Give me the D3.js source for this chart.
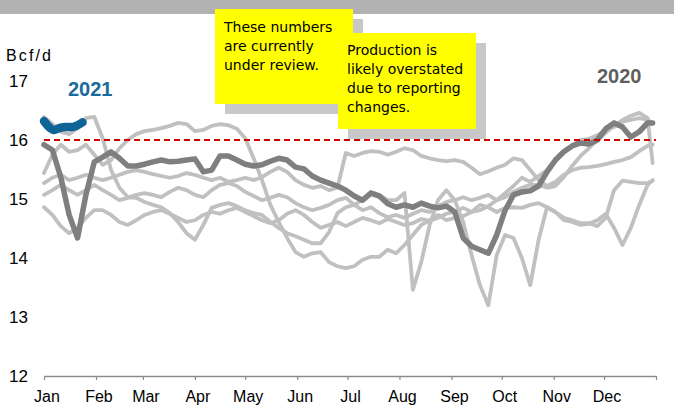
<!DOCTYPE html>
<html>
<head>
<meta charset="utf-8">
<script src="https://cdn.jsdelivr.net/npm/d3@7"></script>
<style>
  body { margin: 0; background: #fff; }
  svg { display: block; }
</style>
</head>
<body>
<svg id="chart" width="674" height="407"></svg>
<script>
// Daily production, Bcf/d, sampled every five days (day of year)
const days = d3.range(0, 361, 5).concat([363]);
const months = ["Jan", "Feb", "Mar", "Apr", "May", "Jun", "Jul", "Aug", "Sep", "Oct", "Nov", "Dec"];
const monthStarts = [0, 31, 59, 90, 120, 151, 181, 212, 243, 273, 304, 334, 365];
const yTicks = [12, 13, 14, 15, 16, 17];
const referenceLevel = 16;

// Prior years (grey)
const y2015 = [16.39,16.27,16.14,16.1,16.2,16.37,16.39,16.03,15.49,15.19,
  15.03,15.02,14.95,14.9,14.86,14.76,14.61,14.42,14.31,14.56,
  14.85,14.9,14.93,14.88,14.81,14.76,14.73,14.61,14.51,14.42,
  14.37,14.31,14.25,14.25,14.44,14.76,14.86,14.9,14.98,15.12,
  15.07,14.98,14.98,15.1,13.46,13.93,14.56,14.98,15.15,14.98,
  14.61,14.05,13.54,13.2,14.05,14.39,14.34,14.0,13.54,14.31,
  14.86,14.78,14.64,14.61,14.56,14.58,14.64,14.75,14.51,14.22,
  14.51,14.9,15.24,15.32];
const y2016 = [15.44,15.75,15.92,15.8,15.83,15.92,15.75,15.58,15.66,15.86,
  16.0,16.1,16.15,16.17,16.2,16.24,16.29,16.27,16.15,16.17,
  16.24,16.27,16.25,16.19,16.03,15.69,15.32,14.9,14.61,14.34,
  14.1,14.02,14.08,14.1,13.93,13.86,13.83,13.86,13.97,14.02,
  14.02,14.14,14.08,14.22,14.39,14.56,14.64,14.73,14.64,14.68,
  14.71,14.78,14.9,14.86,14.78,14.85,14.86,14.85,14.9,14.93,
  14.86,14.78,14.68,14.64,14.59,14.59,14.54,14.68,15.15,15.31,
  15.29,15.27,15.27,15.31];
const y2017 = [15.27,15.36,15.41,15.32,15.36,15.41,15.36,15.32,15.36,15.41,
  15.46,15.49,15.46,15.42,15.39,15.36,15.39,15.44,15.41,15.36,
  15.32,15.36,15.29,15.32,15.36,15.32,15.37,15.46,15.53,15.46,
  15.32,15.24,15.19,15.22,15.15,15.19,15.78,15.73,15.78,15.81,
  15.8,15.75,15.8,15.86,15.83,15.73,15.69,15.66,15.64,15.66,
  15.63,15.53,15.42,15.47,15.53,15.58,15.69,15.66,15.49,15.32,
  15.22,15.29,15.41,15.49,15.53,15.54,15.56,15.59,15.63,15.66,
  15.71,15.81,15.9,15.92];
const y2018 = [15.07,15.15,15.24,15.15,15.07,15.15,15.24,15.15,15.07,14.98,
  15.02,15.07,15.1,15.07,15.03,15.12,15.19,15.15,15.07,15.03,
  15.15,15.24,15.27,15.22,15.12,15.05,14.98,15.02,15.07,15.03,
  14.93,14.86,14.81,14.85,14.9,14.98,15.02,14.9,14.81,14.86,
  14.76,14.69,14.73,14.68,14.75,14.81,14.78,14.88,14.95,14.98,
  15.03,14.98,15.02,15.07,14.98,15.03,15.12,15.19,15.24,15.24,
  15.19,15.22,15.37,15.56,15.73,15.86,16.0,16.12,16.24,16.34,
  16.41,16.46,16.37,15.61];
const y2019 = [14.86,14.73,14.54,14.42,14.51,14.68,14.81,14.81,14.73,14.61,
  14.56,14.64,14.73,14.78,14.81,14.75,14.68,14.61,14.64,14.73,
  14.78,14.75,14.81,14.85,14.78,14.71,14.64,14.59,14.64,14.75,
  14.81,14.73,14.61,14.51,14.56,14.61,14.54,14.61,14.68,14.64,
  14.59,14.66,14.61,14.56,14.59,14.66,14.63,14.68,14.75,14.78,
  14.85,14.78,14.81,14.88,14.98,15.1,15.22,15.36,15.29,15.39,
  15.49,15.66,15.8,15.9,16.0,16.02,16.08,16.17,16.22,16.31,
  16.34,16.37,16.34,16.29];

// 2020 (dark grey)
const y2020 = [15.92,15.83,15.37,14.73,14.34,15.07,15.63,15.71,15.8,15.69,
  15.56,15.56,15.59,15.63,15.66,15.63,15.64,15.66,15.68,15.46,
  15.49,15.73,15.73,15.66,15.59,15.56,15.58,15.64,15.69,15.66,
  15.54,15.51,15.39,15.32,15.27,15.22,15.15,15.05,14.98,15.1,
  15.05,14.92,14.86,14.9,14.86,14.93,14.88,14.85,14.88,14.78,
  14.34,14.2,14.14,14.08,14.39,14.81,15.07,15.12,15.14,15.22,
  15.46,15.66,15.8,15.9,15.95,15.93,16.0,16.19,16.29,16.22,
  16.05,16.14,16.29,16.29];

// 2021 to date (blue)
const days2021 = [0, 3, 6, 9, 13, 17, 20, 23];
const y2021 = [16.32, 16.22, 16.17, 16.2, 16.22, 16.22, 16.25, 16.3];

const priorYears = [y2015, y2016, y2017, y2018, y2019];

const svg = d3.select("#chart");
const W = 674, H = 407;

const x = d3.scaleLinear().domain([0, 365]).range([44, 656]);
const y = d3.scaleLinear().domain([12, 17]).range([376, 81]);

// Header band
svg.append("rect").attr("x", 0).attr("y", 0).attr("width", W).attr("height", 14).attr("fill", "#b2b2b2");

// Y axis labels
const yAxis = d3.axisLeft(y).tickValues(yTicks).tickSize(0).tickPadding(0).tickFormat(d3.format("d"));
const gy = svg.append("g").attr("transform", "translate(28,0)").call(yAxis);
gy.select(".domain").remove();
gy.selectAll("text")
  .attr("font-family", "Liberation Sans, Arial, sans-serif")
  .attr("font-size", 17).attr("fill", "#000");

svg.append("text").attr("x", 6).attr("y", 61)
  .attr("font-family", "Liberation Sans, Arial, sans-serif")
  .attr("font-size", 16).attr("textLength", 45).attr("lengthAdjust", "spacing")
  .text("Bcf/d");

// X axis
const xAxis = d3.axisBottom(x).tickValues(monthStarts).tickSize(4).tickSizeOuter(0).tickFormat("");
const gx = svg.append("g").attr("transform", `translate(0,${y(12)})`).call(xAxis);
gx.select(".domain").attr("stroke", "#8c8c8c").attr("stroke-width", 1.5);
gx.selectAll(".tick line").attr("stroke", "#8c8c8c").attr("stroke-width", 1.2);

svg.append("g").selectAll("text").data(months).join("text")
  .attr("x", (d, i) => x(monthStarts[i]) + 3)
  .attr("y", 402)
  .attr("text-anchor", "middle")
  .attr("font-family", "Liberation Sans, Arial, sans-serif")
  .attr("font-size", 16).attr("fill", "#000")
  .text(d => d);

const line = d3.line().x((d, i) => x(days[i])).y(d => y(d));

// Prior years
svg.append("g").selectAll("path").data(priorYears).join("path")
  .attr("d", line)
  .attr("fill", "none").attr("stroke", "#c0c0c0").attr("stroke-width", 3.8)
  .attr("stroke-linejoin", "round").attr("stroke-linecap", "round");

// 2020
svg.append("path").datum(y2020).attr("d", line)
  .attr("fill", "none").attr("stroke", "#7f7f7f").attr("stroke-width", 5.5)
  .attr("stroke-linejoin", "round").attr("stroke-linecap", "round");

// 2021
const line2021 = d3.line().x((d, i) => x(days2021[i])).y(d => y(d)).curve(d3.curveMonotoneX);
svg.append("path").datum(y2021).attr("d", line2021)
  .attr("fill", "none").attr("stroke", "#0f6496").attr("stroke-width", 8.5)
  .attr("stroke-linejoin", "round").attr("stroke-linecap", "round");

// Reference level
svg.append("line")
  .attr("x1", x(0)).attr("x2", x(365))
  .attr("y1", y(referenceLevel)).attr("y2", y(referenceLevel))
  .attr("stroke", "#d40000").attr("stroke-width", 1.8).attr("stroke-dasharray", "6,4");

// Series labels
svg.append("text").attr("x", 68).attr("y", 96)
  .attr("font-family", "Liberation Sans, Arial, sans-serif").attr("font-weight", "bold")
  .attr("font-size", 20).attr("fill", "#1a6a9a").text("2021");
svg.append("text").attr("x", 597).attr("y", 83)
  .attr("font-family", "Liberation Sans, Arial, sans-serif").attr("font-weight", "bold")
  .attr("font-size", 20).attr("fill", "#5f5f5f").text("2020");

// Notes
const notes = [
  { x: 215, y: 9, w: 138, h: 95, lines: ["These numbers", "are currently", "under review."], ty: 32 },
  { x: 338, y: 33, w: 138, h: 96, lines: ["Production is", "likely overstated", "due to reporting", "changes."], ty: 55 }
];
notes.forEach(n => {
  const g = svg.append("g");
  g.append("rect").attr("x", n.x + 10).attr("y", n.y + 10).attr("width", n.w).attr("height", n.h).attr("fill", "#c8c8c8");
  g.append("rect").attr("x", n.x).attr("y", n.y).attr("width", n.w).attr("height", n.h).attr("fill", "#ffff00");
  g.selectAll("text").data(n.lines).join("text")
    .attr("x", n.x + 9).attr("y", (d, i) => n.ty + i * 19)
    .attr("font-family", "Comic Sans MS, DejaVu Sans, sans-serif")
    .attr("font-size", 14).attr("fill", "#000")
    .text(d => d);
});
</script>
</body>
</html>
